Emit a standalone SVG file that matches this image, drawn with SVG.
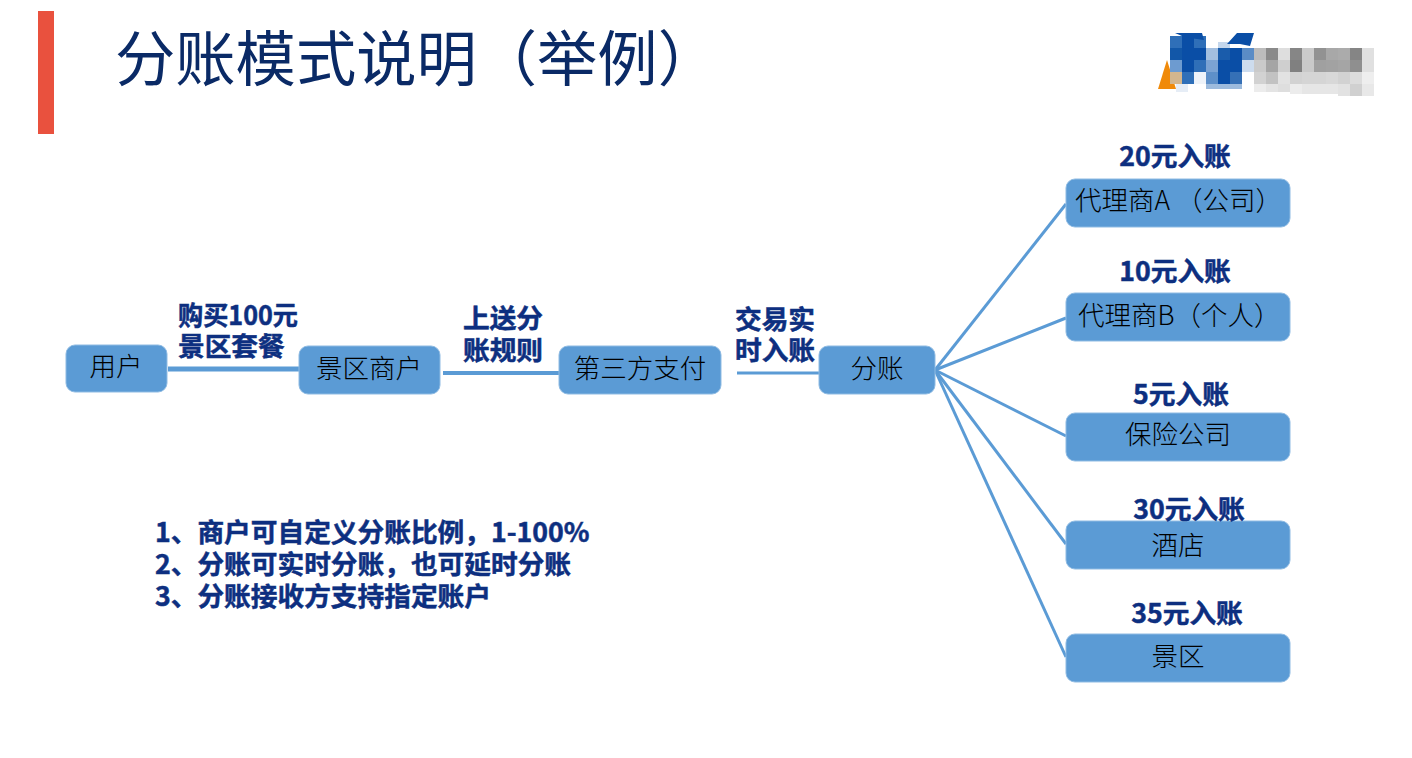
<svg xmlns="http://www.w3.org/2000/svg" width="1412" height="758" viewBox="0 0 1412 758">
<style>
text{font-family:"Noto Sans CJK SC","Noto Sans",sans-serif}
.n{fill:#5b9bd5;stroke:#8fbbe3;stroke-width:1}
.t{font-size:26.5px;fill:#000;text-anchor:middle;font-weight:300}
.l{font-size:26.7px;fill:#0d2f80;font-weight:700;stroke:#0d2f80;stroke-width:.5}
.e{font-size:26.7px;fill:#0d2f80;font-weight:700;text-anchor:middle;stroke:#0d2f80;stroke-width:.5}
.c{stroke:#5b9bd5;fill:none}
</style>
<rect x="38" y="11" width="16" height="123" fill="#e9513e"/>
<text x="115" y="81" font-size="60.3" fill="#0a2a66" font-weight="400">分账模式说明（举例）</text>
<g id="logo">
<polygon points="1158,89 1176,89 1167,60" fill="#f08a0a"/>
<rect x="1170" y="36" width="12" height="12" fill="#2f6fb8"/><rect x="1182" y="36" width="12" height="12" fill="#0a4ea6"/><rect x="1194" y="36" width="12" height="12" fill="#2f6fb8"/>
<rect x="1218" y="42" width="12" height="6" fill="#c5d7ec"/>
<rect x="1170" y="48" width="12" height="12" fill="#1257a8"/><rect x="1182" y="48" width="12" height="12" fill="#0a4ea6"/><rect x="1194" y="48" width="12" height="12" fill="#0a4ea6"/><rect x="1206" y="48" width="12" height="12" fill="#a3bfe0"/><rect x="1218" y="48" width="12" height="12" fill="#1a5cab"/><rect x="1230" y="48" width="12" height="12" fill="#0a4ea6"/><rect x="1242" y="48" width="12" height="12" fill="#5a8cc6"/>
<rect x="1170" y="60" width="12" height="12" fill="#6d9bd0"/><rect x="1182" y="60" width="12" height="12" fill="#0a4ea6"/><rect x="1194" y="60" width="12" height="12" fill="#2f6fb8"/><rect x="1206" y="60" width="12" height="12" fill="#7ba3d3"/><rect x="1218" y="60" width="12" height="12" fill="#0a4ea6"/><rect x="1230" y="60" width="12" height="12" fill="#0a4ea6"/><rect x="1242" y="60" width="12" height="12" fill="#cddcee"/>
<rect x="1170" y="72" width="12" height="12" fill="#d3b68e"/><rect x="1182" y="72" width="12" height="12" fill="#2f6fb8"/><rect x="1194" y="72" width="12" height="12" fill="#eef3f9"/><rect x="1206" y="72" width="12" height="12" fill="#5e90c9"/><rect x="1218" y="72" width="12" height="12" fill="#0a4ea6"/><rect x="1230" y="72" width="12" height="12" fill="#3570b6"/>
<rect x="1176" y="84" width="12" height="8" fill="#e6edf6"/><rect x="1206" y="84" width="36" height="5" fill="#9dbbdd"/>
<polygon points="1175,33 1202,33 1204,40 1190,38 1182,36" fill="#0a4ea6"/>
<polygon points="1237,33 1254,33 1250,46 1240,44 1227,44" fill="#0a4ea6"/>
<g id="logo-grey">
<rect x="1254" y="48" width="12" height="12" fill="#bcbcbc"/><rect x="1266" y="48" width="12" height="12" fill="#8a8a8a"/><rect x="1278" y="48" width="12" height="12" fill="#dedede"/><rect x="1290" y="48" width="12" height="12" fill="#868686"/><rect x="1302" y="48" width="12" height="12" fill="#cbcbcb"/><rect x="1314" y="48" width="12" height="12" fill="#929292"/><rect x="1326" y="48" width="12" height="12" fill="#a8a8a8"/><rect x="1338" y="48" width="12" height="12" fill="#ababab"/><rect x="1350" y="48" width="12" height="12" fill="#858585"/><rect x="1362" y="48" width="12" height="12" fill="#e0e0e0"/>
<rect x="1254" y="60" width="12" height="12" fill="#cacaca"/><rect x="1266" y="60" width="12" height="12" fill="#a5a5a5"/><rect x="1278" y="60" width="12" height="12" fill="#cfcfcf"/><rect x="1290" y="60" width="12" height="12" fill="#808080"/><rect x="1302" y="60" width="12" height="12" fill="#c9c9c9"/><rect x="1314" y="60" width="12" height="12" fill="#a0a0a0"/><rect x="1326" y="60" width="12" height="12" fill="#a2a2a2"/><rect x="1338" y="60" width="12" height="12" fill="#a5a5a5"/><rect x="1350" y="60" width="12" height="12" fill="#8f8f8f"/><rect x="1362" y="60" width="12" height="12" fill="#e0e0e0"/>
<rect x="1254" y="72" width="12" height="12" fill="#d2d2d2"/><rect x="1266" y="72" width="12" height="12" fill="#c2c2c2"/><rect x="1278" y="72" width="12" height="12" fill="#e2e2e2"/><rect x="1290" y="72" width="12" height="12" fill="#d2d2d2"/><rect x="1302" y="72" width="12" height="12" fill="#d5d5d5"/><rect x="1314" y="72" width="12" height="12" fill="#d5d5d5"/><rect x="1326" y="72" width="12" height="12" fill="#d8d8d8"/><rect x="1338" y="72" width="12" height="12" fill="#d2d2d2"/><rect x="1350" y="72" width="12" height="12" fill="#dcdcdc"/><rect x="1362" y="72" width="12" height="12" fill="#eeeeee"/>
<rect x="1254" y="84" width="12" height="8" fill="#ececec"/><rect x="1266" y="84" width="12" height="8" fill="#e4e4e4"/><rect x="1278" y="84" width="12" height="8" fill="#dedede"/><rect x="1290" y="84" width="12" height="10" fill="#ececec"/><rect x="1302" y="84" width="36" height="10" fill="#e6e6e6"/><rect x="1338" y="84" width="12" height="12" fill="#e2e2e2"/><rect x="1350" y="84" width="12" height="12" fill="#d0d0d0"/><rect x="1362" y="84" width="12" height="12" fill="#e8e8e8"/>
</g>
</g>
<g id="connectors" class="c">
<line x1="168" y1="369" x2="299" y2="369" stroke-width="5"/>
<line x1="443" y1="373" x2="560" y2="373" stroke-width="4"/>
<line x1="737" y1="373" x2="819" y2="373" stroke-width="3"/>
<g stroke-width="3">
<line x1="935" y1="370" x2="1066" y2="204"/>
<line x1="935" y1="370" x2="1066" y2="318"/>
<line x1="935" y1="370" x2="1066" y2="436"/>
<line x1="935" y1="370" x2="1066" y2="544"/>
<line x1="935" y1="370" x2="1066" y2="657"/>
</g>
</g>
<g id="user"><rect class="n" x="66" y="345" width="101" height="47" rx="9"/><text class="t" x="116" y="376">用户</text></g>
<g id="merchant"><rect class="n" x="299" y="346" width="141" height="48" rx="9"/><text class="t" x="369" y="378">景区商户</text></g>
<g id="thirdparty"><rect class="n" x="559" y="346" width="162" height="48" rx="9"/><text class="t" x="640" y="378">第三方支付</text></g>
<g id="split"><rect class="n" x="819" y="346" width="116" height="48" rx="9"/><text class="t" x="877" y="378">分账</text></g>
<g id="agent-a"><rect class="n" x="1066" y="179" width="224" height="48" rx="9"/><text class="t" x="1075" y="210" style="text-anchor:start">代理商A （公司）</text></g>
<g id="agent-b"><rect class="n" x="1066" y="293" width="224" height="48" rx="9"/><text class="t" x="1078" y="325" style="text-anchor:start">代理商B（个人）</text></g>
<g id="insurance"><rect class="n" x="1066" y="413" width="224" height="48" rx="9"/><text class="t" x="1178" y="444">保险公司</text></g>
<g id="hotel"><rect class="n" x="1066" y="521" width="224" height="48" rx="9"/><text class="t" x="1178" y="555">酒店</text></g>
<g id="scenic"><rect class="n" x="1066" y="634" width="224" height="48" rx="9"/><text class="t" x="1178" y="666">景区</text></g>
<g id="labels">
<text class="l" x="178" y="325" textLength="120" lengthAdjust="spacingAndGlyphs">购买100元</text>
<text class="l" x="178" y="356">景区套餐</text>
<text class="l" x="463" y="328">上送分</text>
<text class="l" x="463" y="360">账规则</text>
<text class="l" x="735" y="329">交易实</text>
<text class="l" x="735" y="360">时入账</text>
<text class="e" x="1175" y="166">20元入账</text>
<text class="e" x="1175" y="281">10元入账</text>
<text class="e" x="1181" y="404">5元入账</text>
<text class="e" x="1189" y="519">30元入账</text>
<text class="e" x="1187" y="623">35元入账</text>
<text class="l" x="155" y="542">1、商户可自定义分账比例，1-100%</text>
<text class="l" x="155" y="574">2、分账可实时分账，也可延时分账</text>
<text class="l" x="155" y="606">3、分账接收方支持指定账户</text>
</g>
</svg>
